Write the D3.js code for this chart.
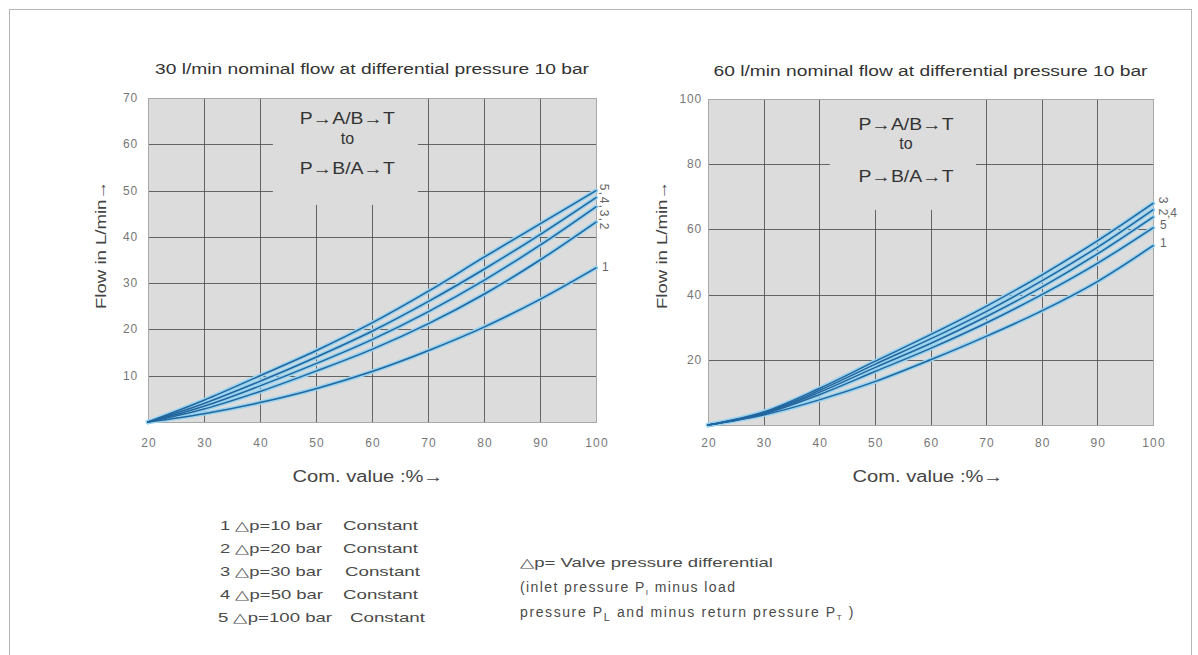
<!DOCTYPE html>
<html>
<head>
<meta charset="utf-8">
<script src="https://cdn.jsdelivr.net/npm/d3@7"></script>
<style>
  html, body { margin: 0; padding: 0; background: #fff; }
  svg { display: block; font-family: "Liberation Sans", Arial, Helvetica, sans-serif; }
</style>
</head>
<body>
<svg id="chart" width="1198" height="655"></svg>
<script>
// ---------------- data ----------------
const comValues = [20, 30, 40, 50, 60, 70, 80, 90, 100];
const xTickLabels = [20, 30, 40, 50, 60, 70, 80, 90, 100];
const leftYTicks = [10, 20, 30, 40, 50, 60, 70];
const rightYTicks = [20, 40, 60, 80, 100];

// 30 l/min valve (curves, top to bottom)
const left5 = [0, 4.7, 10.0, 15.4, 21.4, 28.2, 35.6, 42.8, 50.0];
const left4 = [0, 4.0, 8.8, 14.0, 19.6, 26.0, 33.0, 40.5, 48.5];
const left3 = [0, 3.4, 7.8, 12.6, 17.8, 23.8, 30.6, 38.2, 46.5];
const left2 = [0, 2.8, 6.6, 11.0, 15.7, 21.2, 27.6, 35.0, 43.2];
const left1 = [0, 1.8, 4.2, 7.2, 10.9, 15.4, 20.5, 26.5, 33.3];

// 60 l/min valve (curves, top to bottom)
const right3 = [0, 4.0, 11.2, 19.5, 27.7, 36.4, 46.0, 56.5, 68.0];
const right2 = [0, 3.8, 10.6, 18.6, 26.4, 34.8, 44.2, 54.5, 66.0];
const right4 = [0, 3.6, 10.0, 17.6, 25.0, 33.2, 42.3, 52.5, 63.8];
const right5 = [0, 3.4, 9.3, 16.4, 23.5, 31.3, 40.0, 49.6, 60.5];
const right1 = [0, 3.1, 7.7, 13.3, 20.0, 27.2, 35.0, 44.0, 55.0];

const legendLabels = ["1 \u25B3p=10 bar", "2 \u25B3p=20 bar", "3 \u25B3p=30 bar", "4 \u25B3p=50 bar", "5 \u25B3p=100 bar"];
const legendConst = ["Constant", "Constant", "Constant", "Constant", "Constant"];
const noteLines = ["\u25B3p= Valve pressure differential", "(inlet pressure P", "pressure P"];

// ---------------- drawing ----------------
const svg = d3.select("#chart");

// outer frame
svg.append("rect").attr("x", 9.5).attr("y", 9.5).attr("width", 1182).attr("height", 700)
  .attr("fill", "none").attr("stroke", "#b5b5b5").attr("stroke-width", 1);

function drawChart(cfg) {
  const g = svg.append("g");
  const x = d3.scaleLinear().domain([20, 100]).range([cfg.x0, cfg.x1]);
  const y = d3.scaleLinear().domain([0, cfg.yMax]).range([cfg.yBot, cfg.yTop]);

  // background
  g.append("rect").attr("x", cfg.x0).attr("y", cfg.yTop)
    .attr("width", cfg.x1 - cfg.x0).attr("height", cfg.yBot - cfg.yTop)
    .attr("fill", "#dcdcdc");

  // grid
  const grid = g.append("g").attr("stroke", "#555").attr("stroke-width", 0.9);
  grid.selectAll("line.v").data(xTickLabels.filter(d => d > 20 && d < 100)).join("line")
    .attr("x1", d => Math.round(x(d)) + 0.5).attr("x2", d => Math.round(x(d)) + 0.5)
    .attr("y1", cfg.yTop).attr("y2", cfg.yBot);
  grid.selectAll("line.h").data(cfg.yTicks.filter(d => d < cfg.yMax)).join("line")
    .attr("y1", d => Math.round(y(d)) + 0.5).attr("y2", d => Math.round(y(d)) + 0.5)
    .attr("x1", cfg.x0).attr("x2", cfg.x1);

  // text box cut-out
  g.append("rect").attr("x", x(cfg.boxX[0])).attr("y", cfg.yTop + 1)
    .attr("width", x(cfg.boxX[1]) - x(cfg.boxX[0]))
    .attr("height", y(cfg.boxY) - cfg.yTop - 1)
    .attr("fill", "#dcdcdc");

  // border
  g.append("rect").attr("x", cfg.x0 + 0.5).attr("y", cfg.yTop + 0.5)
    .attr("width", cfg.x1 - cfg.x0).attr("height", cfg.yBot - cfg.yTop)
    .attr("fill", "none").attr("stroke", "#a8a8a8").attr("stroke-width", 1);

  // box text
  const bx = x(cfg.boxCenter);
  const bt = g.append("g").attr("fill", "#333").attr("font-size", 16).attr("text-anchor", "middle");
  bt.append("text").attr("x", bx).attr("y", cfg.boxY1)
    .attr("textLength", 95).attr("lengthAdjust", "spacingAndGlyphs").text("P\u2192A/B\u2192T");
  bt.append("text").attr("x", bx).attr("y", cfg.boxY2).text("to");
  bt.append("text").attr("x", bx).attr("y", cfg.boxY3)
    .attr("textLength", 95).attr("lengthAdjust", "spacingAndGlyphs").text("P\u2192B/A\u2192T");

  // curves
  const line = d3.line().x((d, i) => x(comValues[i])).y(d => y(d)).curve(d3.curveCatmullRom.alpha(0.5));
  const cg = g.append("g").attr("fill", "none");
  cg.selectAll("path.halo").data(cfg.series).join("path")
    .attr("d", line).attr("stroke", "#98d3f0").attr("stroke-width", 4.4).attr("stroke-linecap", "round");
  cg.selectAll("path.core").data(cfg.series).join("path")
    .attr("d", line).attr("stroke", "#23659d").attr("stroke-width", 1.5).attr("stroke-linecap", "round");

  // y tick labels
  g.append("g").attr("fill", "#777").attr("font-size", 12).attr("letter-spacing", 0.8).attr("text-anchor", "end")
    .selectAll("text").data(cfg.yTicks).join("text")
    .attr("x", cfg.x0 - cfg.yLabGap).attr("y", d => y(d) + 4).text(d => d);

  // x tick labels
  g.append("g").attr("fill", "#777").attr("font-size", 12).attr("letter-spacing", 1.2).attr("text-anchor", "middle")
    .selectAll("text").data(xTickLabels).join("text")
    .attr("x", d => x(d) + 1).attr("y", 447).text(d => d);

  // titles
  g.append("text").attr("x", (cfg.x0 + cfg.x1) / 2).attr("y", cfg.titleY)
    .attr("text-anchor", "middle").attr("font-size", 14).attr("fill", "#333")
    .attr("textLength", 434).attr("lengthAdjust", "spacingAndGlyphs").text(cfg.title);
  g.append("text").attr("x", cfg.xTitleX).attr("y", 482)
    .attr("text-anchor", "middle").attr("font-size", 16).attr("fill", "#444")
    .attr("textLength", 151).attr("lengthAdjust", "spacingAndGlyphs").text("Com. value :%\u2192");
  g.append("text").attr("transform", `translate(${cfg.yTitleX},245) rotate(-90)`)
    .attr("text-anchor", "middle").attr("font-size", 15).attr("fill", "#444")
    .attr("textLength", 128).attr("lengthAdjust", "spacingAndGlyphs").text("Flow in L/min\u2192");

  // curve labels
  const lg = g.append("g").attr("fill", "#666").attr("font-size", 12);
  cfg.labels.forEach(l => {
    const t = lg.append("text").text(l.t);
    if (l.rot) {
      t.attr("transform", `translate(${cfg.x1 + l.dx},${y(l.v)}) rotate(90)`).attr("text-anchor", "middle")
        .attr("dy", "0.35em").attr("letter-spacing", l.ls || 0);
    } else {
      t.attr("x", cfg.x1 + l.dx).attr("y", y(l.v)).attr("dy", "0.35em");
    }
  });
}

drawChart({
  x0: 148, x1: 596, yTop: 98, yBot: 422, yMax: 70, yTicks: leftYTicks, yLabGap: 10,
  boxX: [42.3, 68.2], boxY: 46.9, boxCenter: 55.6, boxY1: 124, boxY2: 144, boxY3: 174,
  series: [left5, left4, left3, left2, left1],
  title: "30 l/min nominal flow at differential pressure 10 bar", titleY: 74,
  xTitleX: 368, yTitleX: 106,
  labels: [
    { t: "5,4,3,2", v: 46.4, dx: 8, rot: true, ls: 1.5 },
    { t: "1", v: 33.6, dx: 6, rot: false }
  ]
});

drawChart({
  x0: 708, x1: 1153, yTop: 99, yBot: 425, yMax: 100, yTicks: rightYTicks, yLabGap: 6,
  boxX: [41.9, 68.2], boxY: 66, boxCenter: 55.6, boxY1: 130, boxY2: 149, boxY3: 182,
  series: [right3, right2, right4, right5, right1],
  title: "60 l/min nominal flow at differential pressure 10 bar", titleY: 76,
  xTitleX: 928, yTitleX: 667,
  labels: [
    { t: "3", v: 69, dx: 10, rot: true },
    { t: "2", v: 65.3, dx: 10, rot: true },
    { t: ",4", v: 65, dx: 14, rot: false },
    { t: "5", v: 61.5, dx: 7, rot: false },
    { t: "1", v: 56, dx: 7, rot: false }
  ]
});

// legend
const legLen = [102, 102, 102, 103, 114];
const constX = [343, 343, 345, 343, 350];
const leg = svg.append("g").attr("font-size", 13).attr("fill", "#4a4a4a");
leg.selectAll("text.a").data(legendLabels).join("text")
  .attr("x", (d, i) => i === 4 ? 218 : 220).attr("y", (d, i) => 530 + i * 23)
  .attr("textLength", (d, i) => legLen[i]).attr("lengthAdjust", "spacingAndGlyphs").text(d => d);
leg.selectAll("text.b").data(legendConst).join("text")
  .attr("x", (d, i) => constX[i]).attr("y", (d, i) => 530 + i * 23)
  .attr("textLength", 75).attr("lengthAdjust", "spacingAndGlyphs").text(d => d);

// note
const note = svg.append("g").attr("font-size", 13).attr("fill", "#4a4a4a");
note.append("text").attr("x", 520).attr("y", 567)
  .attr("textLength", 253).attr("lengthAdjust", "spacingAndGlyphs").text(noteLines[0]);
const n2 = note.append("text").attr("x", 520).attr("y", 592).attr("font-size", 14).attr("letter-spacing", 1.4);
n2.append("tspan").text(noteLines[1]);
n2.append("tspan").attr("font-size", 8).attr("dy", 3).text("I");
n2.append("tspan").attr("dy", -3).text("   minus load");
const n3 = note.append("text").attr("x", 520).attr("y", 617).attr("font-size", 14).attr("letter-spacing", 1.6);
n3.append("tspan").text(noteLines[2]);
n3.append("tspan").attr("font-size", 11).attr("dy", 4).text("L");
n3.append("tspan").attr("dy", -4).text(" and minus return pressure P");
n3.append("tspan").attr("font-size", 8).attr("dy", 3).text("T");
n3.append("tspan").attr("dy", -3).text(" )");
</script>
</body>
</html>
